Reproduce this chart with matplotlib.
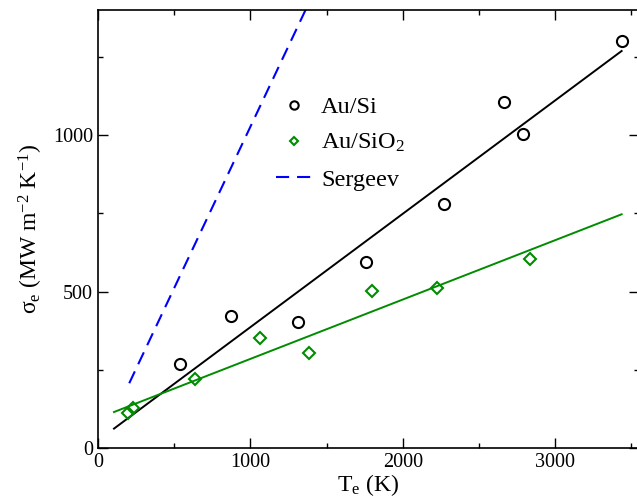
import matplotlib
matplotlib.use("Agg")
import matplotlib.pyplot as plt
from matplotlib.ticker import MultipleLocator

plt.rcParams['font.family'] = ['Liberation Serif', 'DejaVu Serif']
plt.rcParams['mathtext.fontset'] = 'custom'
plt.rcParams['mathtext.rm'] = 'Liberation Serif'
plt.rcParams['mathtext.it'] = 'Liberation Serif:italic'

# Data
si_T = [538, 872, 1311, 1757, 2269, 2662, 2787, 3436]
si_sigma = [268, 422, 403, 594, 780, 1105, 1003, 1300]

sio2_T = [195, 231, 634, 1064, 1385, 1795, 2223, 2833]
sio2_sigma = [111, 127, 220, 351, 304, 501, 510, 604]

si_fit_T = [105, 3436]
si_fit_sigma = [62, 1269]

sio2_fit_T = [105, 3436]
sio2_fit_sigma = [115, 747]

sergeev_T = [205, 1450]
sergeev_sigma = [207, 1491]

W, H = 637, 497
fig = plt.figure(figsize=(W / 100, H / 100), dpi=100)
left, right, top, bottom = 98, 639, 10, 448
ax = fig.add_axes([left / W, (H - bottom) / H, (right - left) / W, (bottom - top) / H])

ax.plot(si_fit_T, si_fit_sigma, color='black', lw=1.4)
ax.plot(sio2_fit_T, sio2_fit_sigma, color='#008c00', lw=1.4)
ax.plot(si_T, si_sigma, 'o', mfc='none', mec='black', mew=1.5, ms=8, label='Au/Si')
ax.plot(sio2_T, sio2_sigma, 'D', mfc='none', mec='#008c00', mew=1.5, ms=6, label='Au/SiO$_2$')
ax.plot(sergeev_T, sergeev_sigma, color='#0000ff', lw=1.5, dashes=(6.3, 3.8), label='Sergeev')

ax.set_xlim(0, 3550)
ax.set_ylim(0, 1400)
ax.xaxis.set_major_locator(MultipleLocator(1000))
ax.xaxis.set_minor_locator(MultipleLocator(500))
ax.yaxis.set_major_locator(MultipleLocator(500))
ax.yaxis.set_minor_locator(MultipleLocator(250))
ax.tick_params(which='both', direction='in', top=True, right=True, width=1.0, labelsize=14.5)
ax.tick_params(which='major', length=7)
ax.tick_params(which='minor', length=3.6)
for s in ax.spines.values():
    s.set_linewidth(1.2)
ax.spines['right'].set_visible(False)

ax.set_xlabel(r'$\mathregular{T_e}$ (K)', fontsize=17, labelpad=0)
ax.set_ylabel(r'$\mathregular{\sigma_e\ (MW\ m^{-2}\ K^{-1})}$', fontsize=17, labelpad=6)

ax.legend(loc='upper left', bbox_to_anchor=((276 - left) / (right - left), (bottom - 96) / (bottom - top)),
          frameon=False, fontsize=17.5, handlelength=1.45, handletextpad=0.41, labelspacing=0.58,
          borderaxespad=0, borderpad=0, markerscale=0.75)

fig.savefig('out.png', dpi=100)
